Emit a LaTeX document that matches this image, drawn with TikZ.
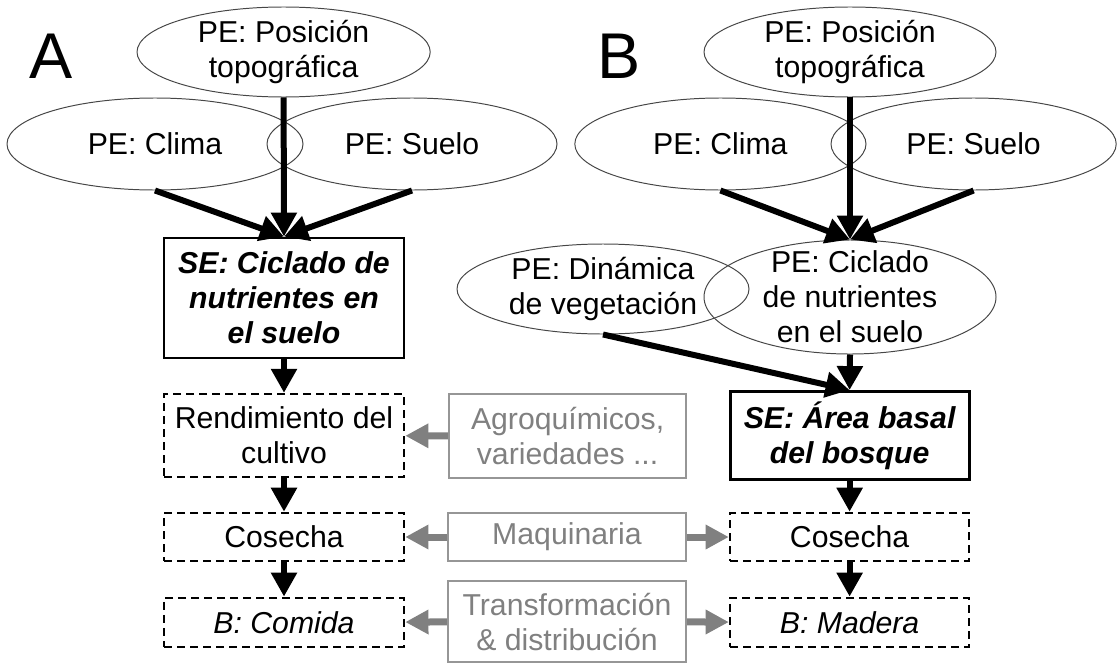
\documentclass[tikz,border=0pt]{standalone}
\usepackage{fontspec}
\setmainfont{Liberation Sans}
\usepackage{tikz}
\usetikzlibrary{arrows.meta,shapes.geometric}
\definecolor{midgray}{RGB}{128,128,128}
\definecolor{linegray}{RGB}{150,150,150}
\definecolor{ringgray}{RGB}{70,70,70}

\begin{document}
\begin{tikzpicture}[
		pe/.style={draw=ringgray, line width=0.7pt, ellipse, inner xsep=0pt, inner ysep=-2pt, align=center},
		se/.style={draw, line width=2pt, align=center, font=\bfseries\itshape},
		ben/.style={draw, line width=1.8pt, dash pattern=on 0.2cm off 0.125cm, align=center},
		ext/.style={draw=linegray, line width=1.5pt, text=midgray, align=center},
		flow/.style={line width=0.15cm, -{Triangle[length=0.6cm, width=0.62cm]}},
		aid/.style={midgray, line width=0.175cm, -{Triangle[length=0.58cm, width=0.58cm]}}
	]
			\fontsize{21.5}{25}\selectfont
			\useasboundingbox (0,0) rectangle (27.925,-16.6);

			% Panel A
			\node[font=\fontsize{46}{50}\selectfont] (labA) at (1.275,-1.4) {A};
			\node[pe, minimum width=7.33cm, minimum height=2.25cm] (posA) at (7.09,-1.3) {PE: Posición\\topográfica};
			\node[pe, minimum width=7.4cm, minimum height=2.3cm] (climaA) at (3.875,-3.6) {PE: Clima};
			\node[pe, minimum width=7.25cm, minimum height=2.3cm] (sueloA) at (10.3,-3.6) {PE: Suelo};
			\node[se, minimum width=6cm, minimum height=3cm] (seA) at (7.1,-7.45) {SE: Ciclado de\\nutrientes en\\el suelo};
			\node[ben, minimum width=6cm, minimum height=2.075cm] (rendA) at (7.1,-10.89) {Rendimiento del\\cultivo};
			\node[ben, minimum width=6cm, minimum height=1.2cm] (cosA) at (7.1,-13.425) {Cosecha};
			\node[ben, minimum width=6cm, minimum height=1.225cm] (comA) at (7.1,-15.56) {\textit{B: Comida}};

			% Inputs in the middle
			\node[ext, minimum width=5.925cm, minimum height=2.1cm] (agro) at (14.19,-10.9) {Agroquímicos,\\variedades ...};
			\node[ext, minimum width=5.95cm, minimum height=1.2cm] (maq) at (14.175,-13.425) {Maquinaria};
			\node[ext, minimum width=5.95cm, minimum height=2.025cm] (trans) at (14.175,-15.54) {Transformación\\\& distribución};

			% Panel B
			\node[font=\fontsize{46}{50}\selectfont] (labB) at (15.475,-1.4) {B};
			\node[pe, minimum width=7.3cm, minimum height=2.25cm] (posB) at (21.25,-1.3) {PE: Posición\\topográfica};
			\node[pe, minimum width=7.28cm, minimum height=2.3cm] (climaB) at (18.01,-3.6) {PE: Clima};
			\node[pe, minimum width=7.13cm, minimum height=2.3cm] (sueloB) at (24.34,-3.6) {PE: Suelo};
			\node[pe, minimum width=7.3cm, minimum height=2.25cm] (dinB) at (15.075,-7.225) {PE: Dinámica\\de vegetación};
			\node[pe, inner ysep=-5pt, minimum width=7.3cm, minimum height=2.85cm] (cicB) at (21.25,-7.425) {PE: Ciclado\\de nutrientes\\en el suelo};
			\node[se, minimum width=5.975cm, minimum height=2.075cm] (seB) at (21.24,-10.89) {SE: Área basal\\del bosque};
			\node[ben, minimum width=5.975cm, minimum height=1.2cm] (cosB) at (21.24,-13.425) {Cosecha};
			\node[ben, minimum width=5.975cm, minimum height=1.225cm] (madB) at (21.24,-15.56) {\textit{B: Madera}};

			% Arrows A
			\draw[flow] (climaA.south) -- (seA.north);
			\draw[flow] (sueloA.south) -- (seA.north);
			\draw[flow] (posA.south) -- (seA.north);
			\draw[flow] (seA) -- (rendA);
			\draw[flow] (rendA) -- (cosA);
			\draw[flow] (cosA) -- (comA);

			% Arrows B
			\draw[flow] (climaB.south) -- (cicB.north);
			\draw[flow] (sueloB.south) -- (cicB.north);
			\draw[flow] (posB.south) -- (cicB.north);
			\draw[flow] (dinB.south) -- (seB.north);
			\draw[flow] (cicB.south) -- (seB.north);
			\draw[flow] (seB) -- (cosB);
			\draw[flow] (cosB) -- (madB);

			% Gray inputs
			\draw[aid] (agro) -- (rendA);
			\draw[aid] (maq) -- (cosA);
			\draw[aid] (maq) -- (cosB);
			\draw[aid] (trans) -- (comA);
			\draw[aid] (trans) -- (madB);
		\end{tikzpicture}
\end{document}
